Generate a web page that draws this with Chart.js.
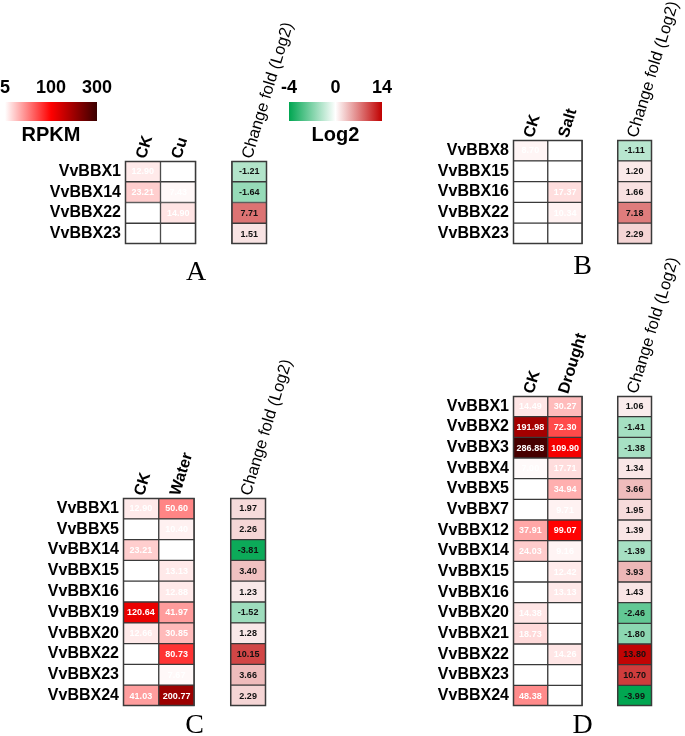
<!DOCTYPE html>
<html>
<head>
<meta charset="utf-8">
<script src="https://cdn.jsdelivr.net/npm/chart.js@4.4.1/dist/chart.umd.min.js"></script>
<style>
  body { margin: 0; width: 685px; height: 736px; overflow: hidden; background: #fff; position: relative; }
  canvas { position: absolute; }
</style>
</head>
<body>
<canvas id="barRpkm" width="130" height="90" style="left:0;top:60px"></canvas>
<canvas id="barLog2" width="135" height="90" style="left:270px;top:60px"></canvas>
<canvas id="panelA" width="305" height="290" style="left:0;top:0"></canvas>
<canvas id="panelB" width="289" height="290" style="left:396px;top:0"></canvas>
<canvas id="panelC" width="305" height="460" style="left:0;top:290px"></canvas>
<canvas id="panelD" width="289" height="500" style="left:396px;top:250px"></canvas>

<script>
// ---- data ----
const rpkmTicks = ['5', '100', '300'];
const rpkmStops = [5, 100, 300];
const log2Ticks = ['-4', '0', '14'];
const log2Stops = [-4, 0, 14];

// A: Cu
const genesA = ['VvBBX1', 'VvBBX14', 'VvBBX22', 'VvBBX23'];
const ckA = [12.90, 23.21, null, null];
const cuA = [null, 7.43, 14.90, null];
const foldA = [-1.21, -1.64, 7.71, 1.51];

// B: Salt
const genesB = ['VvBBX8', 'VvBBX15', 'VvBBX16', 'VvBBX22', 'VvBBX23'];
const ckB = [8.70, null, null, null, null];
const saltB = [null, null, 17.37, 10.34, null];
const foldB = [-1.11, 1.20, 1.66, 7.18, 2.29];

// C: Water
const genesC = ['VvBBX1', 'VvBBX5', 'VvBBX14', 'VvBBX15', 'VvBBX16', 'VvBBX19', 'VvBBX20', 'VvBBX22', 'VvBBX23', 'VvBBX24'];
const ckC = [12.90, null, 23.21, null, null, 120.64, 12.66, null, null, 41.03];
const waterC = [50.60, 10.40, null, 13.13, 12.88, 41.97, 30.85, 80.73, 7.67, 200.77];
const foldC = [1.97, 2.26, -3.81, 3.40, 1.23, -1.52, 1.28, 10.15, 3.66, 2.29];

// D: Drought
const genesD = ['VvBBX1', 'VvBBX2', 'VvBBX3', 'VvBBX4', 'VvBBX5', 'VvBBX7', 'VvBBX12', 'VvBBX14', 'VvBBX15', 'VvBBX16', 'VvBBX20', 'VvBBX21', 'VvBBX22', 'VvBBX23', 'VvBBX24'];
const ckD = [14.49, 191.98, 286.88, 7.00, null, null, 37.91, 24.03, null, null, 14.38, 18.73, null, null, 48.38];
const droughtD = [30.27, 72.30, 109.90, 17.71, 34.94, 9.71, 99.07, 9.16, 12.42, 13.13, null, null, 14.26, null, null];
const foldD = [1.06, -1.41, -1.38, 1.34, 3.66, 1.95, 1.39, -1.39, 3.93, 1.43, -2.46, -1.80, 13.80, 10.70, -3.99];

const SANS = "'Liberation Sans', Arial, sans-serif";
const SERIF = "'Liberation Serif', 'Times New Roman', serif";

function mix(a, b, t) {
  return 'rgb(' + a.map((v, i) => Math.round(v + (b[i] - v) * t)).join(',') + ')';
}
const WHITE = [255, 255, 255], RED = [255, 0, 0], DARK = [58, 0, 0];
const GREEN = [0, 166, 81], CRIMSON = [192, 0, 0];

function rpkmColor(v) {
  if (v == null || v <= 5) return '#ffffff';
  if (v <= 100) return mix(WHITE, RED, (v - 5) / 95);
  return mix(RED, DARK, Math.min(1, (v - 100) / 200));
}
function foldColor(v) {
  if (v == null) return '#ffffff';
  if (v < 0) return mix(WHITE, GREEN, Math.min(1, -v / 4));
  return mix(WHITE, CRIMSON, Math.min(1, v / 14));
}

// cell numbers
const cellText = {
  id: 'cellText',
  afterDatasetsDraw(chart) {
    const ctx = chart.ctx;
    ctx.save();
    ctx.font = 'bold 9px ' + SANS;
    ctx.textAlign = 'center';
    ctx.textBaseline = 'middle';
    chart.data.datasets.forEach((ds, di) => {
      if (!ds.values) return;
      ctx.fillStyle = ds.textColor;
      chart.getDatasetMeta(di).data.forEach((el, i) => {
        const v = ds.values[i];
        if (v == null) return;
        const p = el.getCenterPoint();
        ctx.fillText(v.toFixed(2), p.x, p.y + 0.5);
      });
    });
    ctx.restore();
  }
};

// outer frame around each block
const blockFrame = {
  id: 'blockFrame',
  afterDatasetsDraw(chart, args, opts) {
    if (!opts.blocks) return;
    const ctx = chart.ctx, x = chart.scales.x, a = chart.chartArea;
    ctx.save();
    ctx.strokeStyle = '#3a3a3a';
    ctx.lineWidth = 1.5;
    opts.blocks.forEach(b => {
      const l = x.getPixelForValue(b[0]), r = x.getPixelForValue(b[1]);
      ctx.strokeRect(l + 0.5, a.top + 0.5, r - l - 1, a.bottom - a.top - 1);
    });
    ctx.restore();
  }
};

function hiddenGrid() {
  return { grid: { display: false, drawTicks: false }, border: { display: false } };
}

function drawPanel(id, letter, genes, ck, treat, fold, treatName, box) {
  const headers = ['CK', treatName, 'Change fold (Log2)'];
  const cell = { borderColor: '#3a3a3a', borderWidth: 1, borderSkipped: false,
                 barPercentage: 1, categoryPercentage: 1, grouped: false };
  new Chart(document.getElementById(id), {
    type: 'bar',
    data: {
      labels: genes,
      datasets: [
        Object.assign({ data: genes.map(() => [0, 1]), values: ck, textColor: '#ffffff',
                        backgroundColor: ck.map(rpkmColor) }, cell),
        Object.assign({ data: genes.map(() => [1, 2]), values: treat, textColor: '#ffffff',
                        backgroundColor: treat.map(rpkmColor) }, cell),
        Object.assign({ data: genes.map(() => [3, 4]), values: fold, textColor: '#111111',
                        backgroundColor: fold.map(foldColor) }, cell)
      ]
    },
    options: {
      indexAxis: 'y',
      responsive: false,
      animation: false,
      events: [],
      layout: { padding: { left: 0, top: 0, bottom: 0, right: box.right } },
      plugins: { legend: { display: false }, tooltip: { enabled: false },
                 blockFrame: { blocks: [[0, 2], [3, 4]] } },
      scales: {
        x: Object.assign(hiddenGrid(), {
          type: 'linear', position: 'top', min: 0, max: 4,
          afterBuildTicks: s => { s.ticks = [0.5, 1.5, 3.5].map(v => ({ value: v })); },
          afterFit: s => { s.height = box.top; s.paddingLeft = 0; s.paddingRight = 0; },
          ticks: {
            autoSkip: false, minRotation: 73, maxRotation: 73, padding: 0, labelOffset: 17,
            color: '#000', callback: (v, i) => headers[i],
            font: c => ({ family: SANS, size: c.index === 2 ? 16.5 : 16, weight: c.index === 2 ? 'normal' : 'bold' })
          }
        }),
        xb: Object.assign(hiddenGrid(), {
          type: 'linear', position: 'bottom', min: 0, max: 4,
          ticks: { display: false },
          afterFit: s => { s.height = box.bottom; s.paddingLeft = 0; s.paddingRight = 0; },
          title: { display: true, text: letter, color: '#000',
                   font: { family: SERIF, size: 28 }, padding: { top: 0, bottom: box.pb } }
        }),
        y: Object.assign(hiddenGrid(), {
          afterFit: s => { s.width = box.yw; s.paddingTop = 0; s.paddingBottom = 0; },
          ticks: { autoSkip: false, color: '#000', padding: 4,
                   font: { family: SANS, size: 16, weight: 'bold' } }
        })
      }
    },
    plugins: [cellText, blockFrame]
  });
}

function drawColorbar(id, tickText, stopVals, colorFn, title, box) {
  new Chart(document.getElementById(id), {
    type: 'bar',
    data: {
      labels: [title],
      datasets: [{
        data: [[0, tickText.length - 1]],
        borderWidth: 0, barPercentage: 1, categoryPercentage: 1,
        backgroundColor: c => {
          const a = c.chart.chartArea;
          if (!a) return '#fff';
          const g = c.chart.ctx.createLinearGradient(a.left, 0, a.right, 0);
          stopVals.forEach((v, i) => g.addColorStop(i / (stopVals.length - 1), colorFn(v)));
          return g;
        }
      }]
    },
    options: {
      indexAxis: 'y',
      responsive: false,
      animation: false,
      events: [],
      layout: { padding: { left: box.left, right: box.right, top: 0, bottom: 0 } },
      plugins: { legend: { display: false }, tooltip: { enabled: false } },
      scales: {
        x: Object.assign(hiddenGrid(), {
          type: 'linear', position: 'top', min: 0, max: tickText.length - 1,
          afterBuildTicks: s => { s.ticks = tickText.map((t, i) => ({ value: i })); },
          afterFit: s => { s.height = box.top; s.paddingLeft = 0; s.paddingRight = 0; },
          ticks: { autoSkip: false, minRotation: 0, maxRotation: 0, padding: 3, color: '#000',
                   callback: (v, i) => tickText[i],
                   font: { family: SANS, size: 18, weight: 'bold' } }
        }),
        xt: Object.assign(hiddenGrid(), {
          type: 'linear', position: 'bottom', min: 0, max: 1,
          ticks: { display: false },
          afterFit: s => { s.height = box.bottom; s.paddingLeft = 0; s.paddingRight = 0; },
          title: { display: true, text: title, color: '#000',
                   font: { family: SANS, size: 20, weight: 'bold' }, padding: { top: 0, bottom: box.pb } }
        }),
        y: { display: false }
      }
    }
  });
}

drawColorbar('barRpkm', rpkmTicks, rpkmStops, rpkmColor, 'RPKM', { left: 5, right: 33, top: 42, bottom: 29, pb: 3 });
drawColorbar('barLog2', log2Ticks, log2Stops, foldColor, 'Log2', { left: 19, right: 23, top: 42, bottom: 29, pb: 3 });

drawPanel('panelA', 'A', genesA, ckA, cuA, foldA, 'Cu', { yw: 125, right: 38, top: 161, bottom: 46, pb: 1 });
drawPanel('panelB', 'B', genesB, ckB, saltB, foldB, 'Salt', { yw: 117, right: 33, top: 140, bottom: 46, pb: 7 });
drawPanel('panelC', 'C', genesC, ckC, waterC, foldC, 'Water', { yw: 123, right: 39, top: 208, bottom: 44, pb: 8 });
drawPanel('panelD', 'D', genesD, ckD, droughtD, foldD, 'Drought', { yw: 117, right: 33, top: 146, bottom: 44, pb: 8 });
</script>
</body>
</html>
